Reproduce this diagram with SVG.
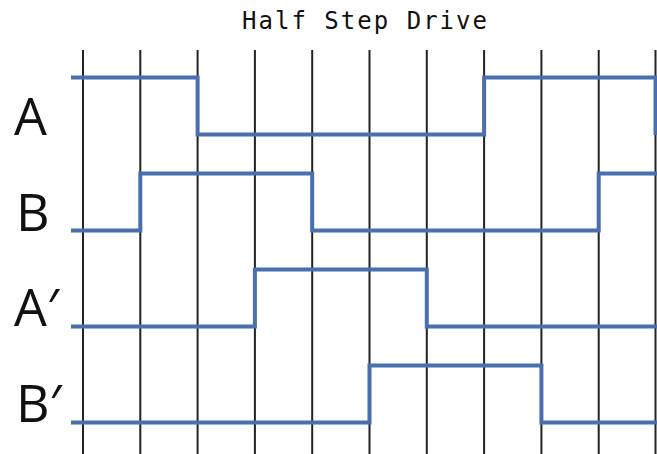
<svg xmlns="http://www.w3.org/2000/svg" width="657" height="454" viewBox="0 0 657 454">
<style>
.grid{stroke:#222;stroke-width:2;fill:none}
.sig{stroke:#4a6eae;stroke-width:4;fill:none;stroke-linejoin:miter}
.lbl{font-family:"Open Sans","Liberation Sans",sans-serif;font-size:52px;fill:#111}
.title{font-family:"DejaVu Sans Mono","Liberation Mono",monospace;font-size:24px;fill:#111}
</style>
<rect width="657" height="454" fill="#fff"/>
<g id="title"><text class="title" x="242" y="29" textLength="245" lengthAdjust="spacing">Half Step Drive</text></g>
<g id="grid" class="grid">
<line x1="83" y1="50" x2="83" y2="454"/>
<line x1="140.3" y1="50" x2="140.3" y2="454"/>
<line x1="197.6" y1="50" x2="197.6" y2="454"/>
<line x1="254.9" y1="50" x2="254.9" y2="454"/>
<line x1="312.2" y1="50" x2="312.2" y2="454"/>
<line x1="369.5" y1="50" x2="369.5" y2="454"/>
<line x1="426.8" y1="50" x2="426.8" y2="454"/>
<line x1="484.1" y1="50" x2="484.1" y2="454"/>
<line x1="541.4" y1="50" x2="541.4" y2="454"/>
<line x1="598.7" y1="50" x2="598.7" y2="454"/>
<line x1="655.5" y1="50" x2="655.5" y2="454"/>
</g>
<g id="connectors">
<path id="sigA" class="sig" d="M71 77.5H197.6V134.5H484.1V77.5H655.5V135"/>
<path id="sigB" class="sig" d="M71 230.5H140.3V173.5H312.2V230.5H598.7V173.5H657"/>
<path id="sigA2" class="sig" d="M71 326.5H254.9V269.5H426.8V326.5H657"/>
<path id="sigB2" class="sig" d="M71 422.5H369.5V365.5H541.4V422.5H657"/>
</g>
<g id="labelA"><text class="lbl" x="14" y="135">A</text></g>
<g id="labelB"><text class="lbl" x="16" y="231">B</text></g>
<g id="labelA2"><text class="lbl" x="14" y="326">A′</text></g>
<g id="labelB2"><text class="lbl" x="16" y="422">B′</text></g>
</svg>
